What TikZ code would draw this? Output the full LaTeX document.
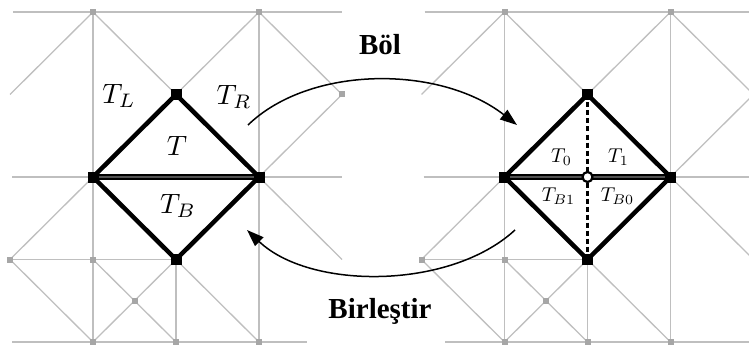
\documentclass[tikz,border=0pt]{standalone}
\usepackage{fontspec}
\newfontfamily\wordfont{Liberation Serif}
\usetikzlibrary{arrows.meta}
\newcommand\bigT[1]{\scalebox{2.8}{$#1$}}
\newcommand\smallT[1]{\scalebox{2.0}{$#1$}}
\newcommand\drawpanel[2]{%
  \foreach \i in {0,...,4}{\foreach \j in {0,...,4}{\coordinate (p\i\j) at ({10+83*\i},{12+82.5*\j});}}
  \coordinate (tL) at (13,12);
  \coordinate (mL) at (12,177);
  \coordinate (bL) at (#1,342);
  \coordinate (bR) at (#2,342);
  \coordinate (cX) at (134.5,300.75);
  \draw[mesh] (tL) -- (p40);
  \draw[mesh] (p10) -- (p01);
  \draw[mesh] (p10) -- (p14);
  \draw[mesh] (p10) -- (p21) -- (p30);
  \draw[mesh] (p30) -- (p34);
  \draw[mesh] (p30) -- (p41) -- (p32);
  \draw[mesh] (mL) -- (p42);
  \draw[mesh] (p12) -- (p03) -- (p14);
  \draw[mesh] (p32) -- (p43);
  \draw[mesh] (p03) -- (p23);
  \draw[mesh] (p13) -- (p24);
  \draw[mesh] (p23) -- (p14);
  \draw[mesh] (p23) -- (p24);
  \draw[mesh] (p23) -- (p34);
  \draw[mesh] (bL) -- (bR);
  \foreach \q in {p10,p30,p41,p03,p13,cX,p14,p24,p34}{\node[gnode] (g\q) at (\q) {};}
  \draw[edge] (p21) -- (p12) -- (p23) -- (p32) -- cycle;
  \draw[line width=5.5pt] (p12) -- (p32);
  \draw[line width=1.5pt, black!68] (p12) -- (p32);
}
\begin{document}
\begin{tikzpicture}[x=1pt,y=-1pt,
  mesh/.style={draw=black!25, line width=1.3pt},
  gnode/.style={rectangle, fill=black!35, minimum size=6pt, inner sep=0pt},
  bnode/.style={rectangle, fill=black, minimum size=11pt, inner sep=0pt},
  edge/.style={line width=4.5pt, line join=round},
  dashedge/.style={line width=3pt, dash pattern=on 5pt off 3pt},
  opennode/.style={circle, draw=black, fill=white, line width=2.2pt, minimum size=10pt, inner sep=0pt},
  lab/.style={inner sep=0pt},
  word/.style={font=\wordfont\bfseries\fontsize{29}{32}\selectfont, inner sep=0pt, anchor=base},
  arr/.style={line width=1.5pt, -{Triangle[length=17pt,width=12pt]}}
]
\useasboundingbox (0,0) rectangle (749,350);
\clip (0,0) rectangle (749,350);
% left panel
\begin{scope}
  \drawpanel{12}{307}
  \foreach \q in {p21,p12,p32,p23}{\node[bnode] (b\q) at (\q) {};}
  \node[lab] (TL) at (119,96) {\bigT{T_L}};
  \node[lab] (TR) at (234,97) {\bigT{T_R}};
  \node[lab] (T) at (177,146) {\bigT{T}};
  \node[lab] (TB) at (178,206) {\bigT{T_B}};
\end{scope}
% right panel
\begin{scope}[xshift=411.5pt, name prefix=R-]
  \drawpanel{33.5}{342}
  \coordinate (mid) at (176,177);
  \draw[dashedge] (p21) -- (p23);
  \foreach \q in {p21,p12,p32,p23}{\node[bnode] (b\q) at (\q) {};}
  \node[opennode] (c) at (mid) {};
  \node[lab] (T0) at (150,157) {\smallT{T_0}};
  \node[lab] (T1) at (207,157) {\smallT{T_1}};
  \node[lab] (TB1) at (147,196) {\smallT{T_{B1}}};
  \node[lab] (TB0) at (206,196) {\smallT{T_{B0}}};
\end{scope}
% arrows
\coordinate (bs) at (248,125);
\coordinate (be) at (517,125);
\coordinate (ms) at (515,230);
\coordinate (me) at (247,230);
\draw[arr] (bs) .. controls (310,65) and (440,65) .. (be);
\draw[arr] (ms) .. controls (450,290) and (310,290) .. (me);
\node[word] (bol) at (380,55) {Böl};
\node[word] (bir) at (380,318) {Birleştir};
\end{tikzpicture}
\end{document}
